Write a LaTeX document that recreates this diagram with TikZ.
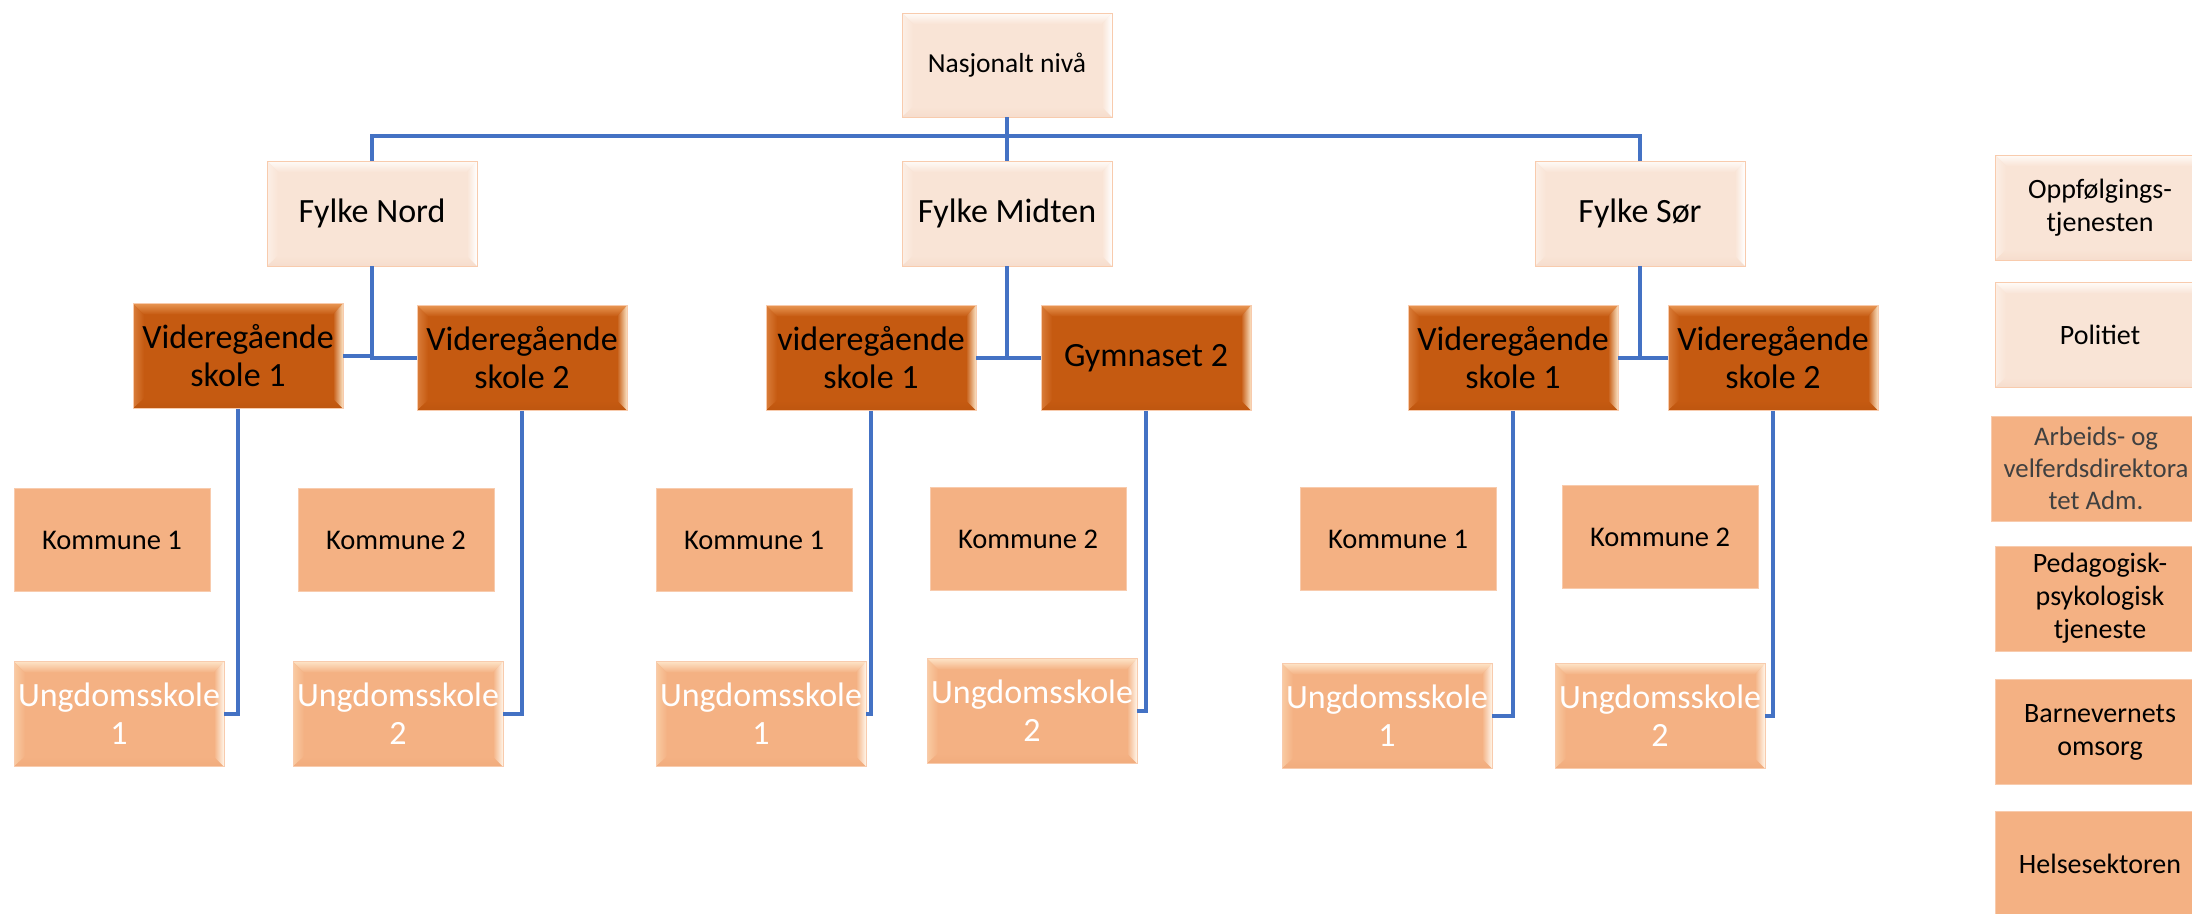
\documentclass[tikz,border=0pt]{standalone}
\usepackage{fontspec}
\setmainfont{Carlito}
\definecolor{lpBase}{HTML}{F9E4D6}
\definecolor{lpTop}{HTML}{FFFBF8}
\definecolor{lpLeft}{HTML}{FCEFE6}
\definecolor{lpBot}{HTML}{F6DDCD}
\definecolor{lpRight}{HTML}{FFFFFF}
\definecolor{doBase}{HTML}{C55A11}
\definecolor{doTop}{HTML}{E89552}
\definecolor{doLeft}{HTML}{DA7D3A}
\definecolor{doBot}{HTML}{BE560F}
\definecolor{doRight}{HTML}{FBE3C4}
\definecolor{mpBase}{HTML}{F4B183}
\definecolor{mpTop}{HTML}{FDE3C6}
\definecolor{mpLeft}{HTML}{F9CBA3}
\definecolor{mpBot}{HTML}{F1AC7D}
\definecolor{mpRight}{HTML}{FFF6EA}
\definecolor{edge}{HTML}{F8CBAD}
\definecolor{conn}{HTML}{4472C4}
\definecolor{greytext}{HTML}{404040}
\tikzset{
  bevel/.style n args={5}{path picture={
    \coordinate (pa) at (path picture bounding box.north west);
    \coordinate (pb) at (path picture bounding box.north east);
    \coordinate (pc) at (path picture bounding box.south east);
    \coordinate (pd) at (path picture bounding box.south west);
    \coordinate (qa) at ([xshift=11pt,yshift=-11pt]pa);
    \coordinate (qb) at ([xshift=-10pt,yshift=-11pt]pb);
    \coordinate (qc) at ([xshift=-10pt,yshift=10pt]pc);
    \coordinate (qd) at ([xshift=11pt,yshift=10pt]pd);
    \shade[top color=#2, bottom color=#1] (pa)--(pb)--(qb)--(qa)--cycle;
    \shade[left color=#3, right color=#1] (pa)--(qa)--(qd)--(pd)--cycle;
    \shade[top color=#1, bottom color=#4] (pd)--(qd)--(qc)--(pc)--cycle;
    \shade[left color=#1, right color=#5] (pb)--(pc)--(qc)--(qb)--cycle;
  }},
  box/.style={rectangle, draw=edge, line width=0.8pt, inner sep=0pt, align=center,
    minimum width=210pt, minimum height=105pt},
  lightbox/.style={box, fill=lpBase, bevel={lpBase}{lpTop}{lpLeft}{lpBot}{lpRight}, text=black},
  darkbox/.style={box, fill=doBase, bevel={doBase}{doTop}{doLeft}{doBot}{doRight}, text=black,
    font=\fontsize{34}{38}\selectfont},
  flatbox/.style={box, fill=mpBase, text=black},
  kombox/.style={flatbox, minimum width=196pt, minimum height=103pt,
    font=\fontsize{28.5}{33}\selectfont},
  ungbox/.style={box, fill=mpBase, bevel={mpBase}{mpTop}{mpLeft}{mpBot}{mpRight}, text=white,
    font=\fontsize{34}{38}\selectfont},
  fylkebox/.style={lightbox, font=\fontsize{34}{38}\selectfont},
  sidebox/.style={font=\fontsize{28}{33}\selectfont},
  link/.style={draw=conn, line width=3.5pt}
}
\begin{document}
\begin{tikzpicture}[x=1pt,y=-1pt]
\clip (0,0) rectangle (2192,913);
\fill[white] (0,0) rectangle (2192,913);

% top level
\node[lightbox, font=\fontsize{27.5}{32}\selectfont, minimum height=104pt] (nas) at (1007,65) {Nasjonalt nivå};

% counties
\node[fylkebox] (fn) at (372,213.5) {Fylke Nord};
\node[fylkebox] (fm) at (1007,213.5) {Fylke Midten};
\node[fylkebox] (fs) at (1640,213.5) {Fylke Sør};

% upper secondary schools
\node[darkbox] (n1) at (238,356) {Videregående\\skole 1};
\node[darkbox] (n2) at (522,358) {Videregående\\skole 2};
\node[darkbox] (m1) at (871,358) {videregående\\skole 1};
\node[darkbox] (m2) at (1146,358) {Gymnaset 2};
\node[darkbox] (s1) at (1513,358) {Videregående\\skole 1};
\node[darkbox] (s2) at (1773,358) {Videregående\\skole 2};

% municipalities
\node[kombox] (nk1) at (112,540) {Kommune 1};
\node[kombox] (nk2) at (396,540) {Kommune 2};
\node[kombox] (mk1) at (754,540) {Kommune 1};
\node[kombox] (mk2) at (1028,539) {Kommune 2};
\node[kombox] (sk1) at (1398,539) {Kommune 1};
\node[kombox] (sk2) at (1660,537) {Kommune 2};

% lower secondary schools
\node[ungbox] (nu1) at (119,714) {Ungdomsskole\\1};
\node[ungbox] (nu2) at (398,714) {Ungdomsskole\\2};
\node[ungbox] (mu1) at (761,714) {Ungdomsskole\\1};
\node[ungbox] (mu2) at (1032,711) {Ungdomsskole\\2};
\node[ungbox] (su1) at (1387,716) {Ungdomsskole\\1};
\node[ungbox] (su2) at (1660,716) {Ungdomsskole\\2};

% right column
\node[lightbox, sidebox] (opp) at (2100,207.5) {Oppfølgings-\\tjenesten};
\node[lightbox, sidebox] (pol) at (2100,335) {Politiet};
\node[flatbox, sidebox, font=\fontsize{26.8}{32}\selectfont, text=greytext] (arb) at (2096,468.5) {Arbeids- og\\velferdsdirektora\\tet Adm.};
\node[flatbox, sidebox] (ped) at (2100,598.5) {Pedagogisk-\\psykologisk\\tjeneste};
\node[flatbox, sidebox] (bar) at (2100,732) {Barnevernets\\omsorg};
\node[flatbox, sidebox] (hel) at (2100,864) {Helsesektoren};

% connectors
\coordinate (bus) at (1007,136);
\draw[link] (nas.south) -- (fm.north);
\draw[link] (bus) -| (fn.north);
\draw[link] (bus) -| (fs.north);

\draw[link] (fn.south) |- (n1.east);
\draw[link] (fn.south) |- (n2.west);
\draw[link] (fm.south) |- (m1.east);
\draw[link] (fm.south) |- (m2.west);
\draw[link] (fs.south) |- (s1.east);
\draw[link] (fs.south) |- (s2.west);

\draw[link] (n1.south) |- (nu1.east);
\draw[link] (n2.south) |- (nu2.east);
\draw[link] (m1.south) |- (mu1.east);
\draw[link] (m2.south) |- (mu2.east);
\draw[link] (s1.south) |- (su1.east);
\draw[link] (s2.south) |- (su2.east);
\end{tikzpicture}
\end{document}
